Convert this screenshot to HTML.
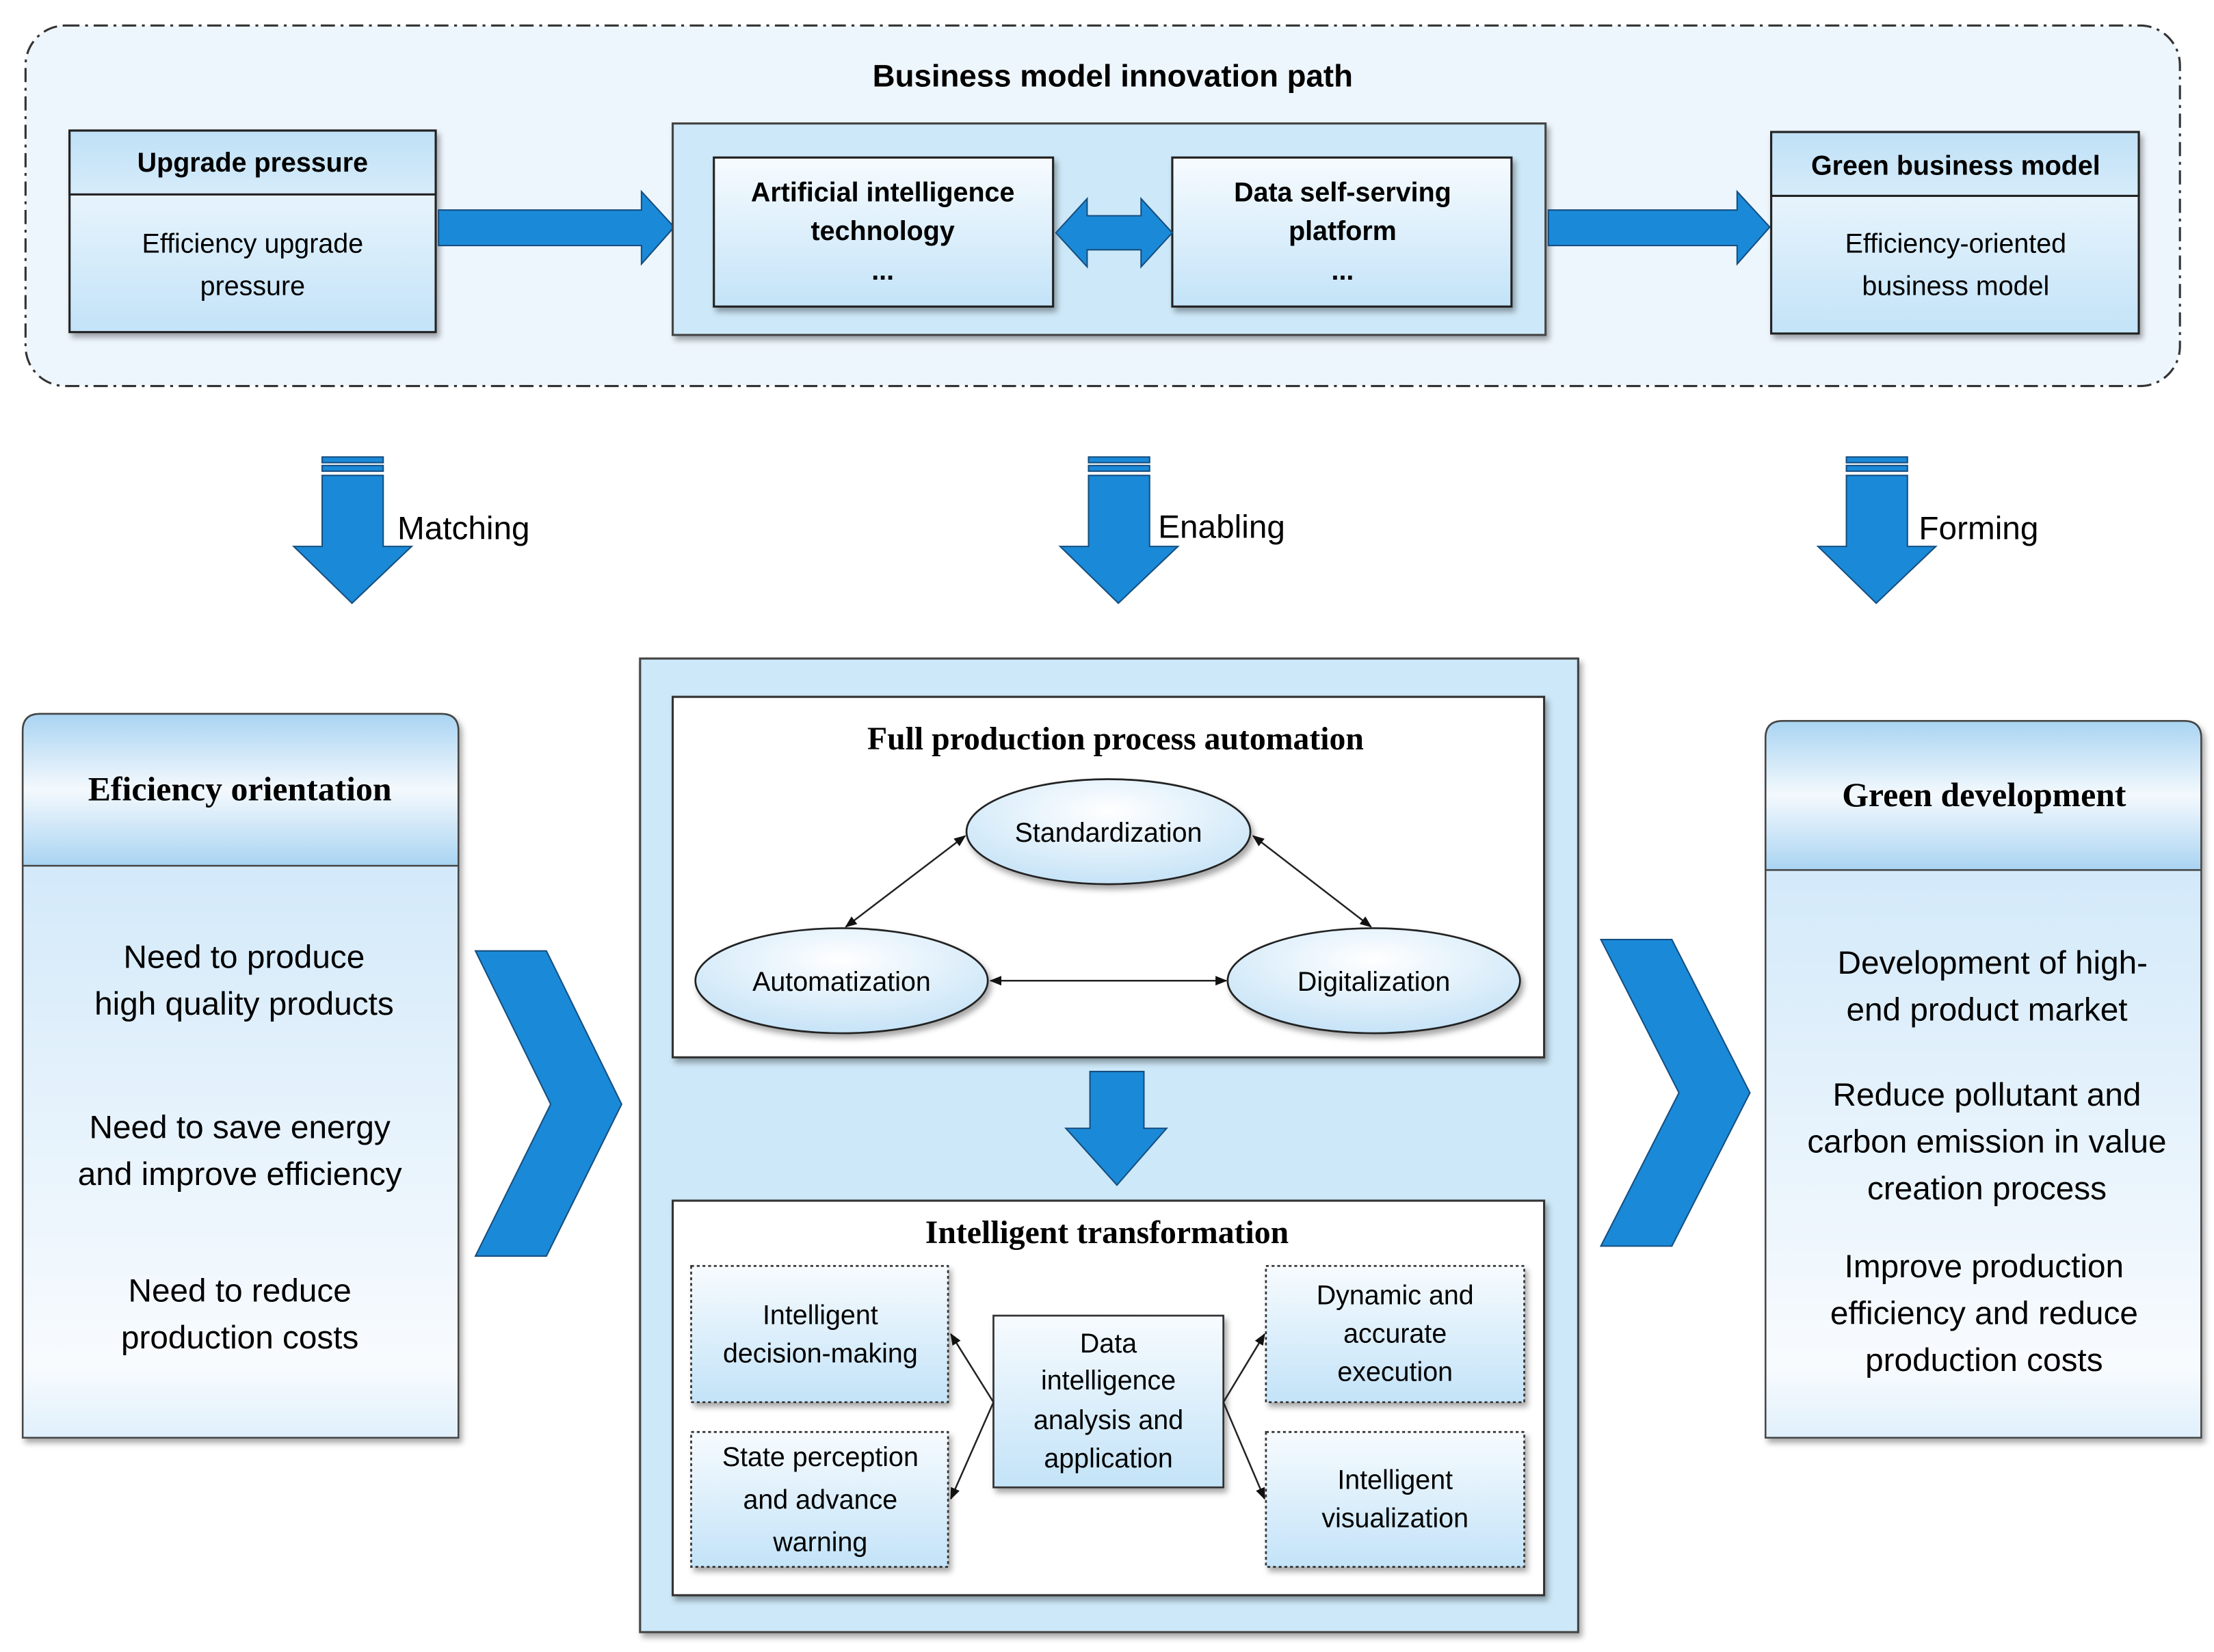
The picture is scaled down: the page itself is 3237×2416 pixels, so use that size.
<!DOCTYPE html>
<html><head><meta charset="utf-8"><style>
html,body{margin:0;padding:0;background:#fff;}
svg{display:block;}
.s{font-family:"Liberation Sans",sans-serif;}
.b{font-family:"Liberation Sans",sans-serif;font-weight:bold;}
.sf{font-family:"Liberation Serif",serif;font-weight:bold;}
</style></head><body>
<svg width="3237" height="2416" viewBox="0 0 1560 1164" preserveAspectRatio="none" xmlns="http://www.w3.org/2000/svg">
<defs>
<linearGradient id="g1" x1="0" y1="0" x2="0" y2="1"><stop offset="0" stop-color="#f7fbfe"/><stop offset="1" stop-color="#c3e3f8"/></linearGradient>
<linearGradient id="g2" x1="0" y1="0" x2="0" y2="1"><stop offset="0" stop-color="#a9d4f2"/><stop offset="0.5" stop-color="#f4f9fd"/><stop offset="1" stop-color="#a9d4f2"/></linearGradient>
<linearGradient id="gh" x1="0" y1="0" x2="0" y2="1"><stop offset="0" stop-color="#bfe0f6"/><stop offset="1" stop-color="#d6ecfa"/></linearGradient>
<linearGradient id="gp" x1="0" y1="0" x2="0" y2="1"><stop offset="0" stop-color="#c8e4f8"/><stop offset="0.9" stop-color="#f8fbfe"/><stop offset="1" stop-color="#e0f0fb"/></linearGradient>
<radialGradient id="ge" cx="0.5" cy="0.3" r="0.7"><stop offset="0" stop-color="#ffffff"/><stop offset="1" stop-color="#c6e3f7"/></radialGradient>
<marker id="ah" viewBox="0 0 10 10" refX="9" refY="5" markerWidth="7" markerHeight="7" orient="auto-start-reverse"><path d="M0,1 L10,5 L0,9 z" fill="#111"/></marker>
<filter id="sh" x="-5%" y="-5%" width="115%" height="120%"><feDropShadow dx="2" dy="3" stdDeviation="2" flood-color="#000" flood-opacity="0.35"/></filter>
</defs>
<!-- top region -->
<rect x="18" y="18" width="1518" height="254" rx="28" fill="#eef6fd" stroke="#333" stroke-width="1.5" stroke-dasharray="10,4,2,4"/>
<text x="784" y="61" class="b" font-size="22" text-anchor="middle">Business model innovation path</text>

<g filter="url(#sh)">
<rect x="49" y="92" width="258" height="142" fill="url(#g1)" stroke="#222" stroke-width="1.5"/>
<rect x="49" y="92" width="258" height="45" fill="url(#gh)" stroke="#222" stroke-width="1.5"/>
</g>
<text x="178" y="121" class="b" font-size="19" text-anchor="middle">Upgrade pressure</text>
<text x="178" y="178" class="s" font-size="19" text-anchor="middle">Efficiency upgrade</text>
<text x="178" y="208" class="s" font-size="19" text-anchor="middle">pressure</text>

<polygon points="309,148 452,148 452,135 475,160 452,186 452,173 309,173" fill="#1a8ad8" stroke="#164f80" stroke-width="1"/>

<rect x="474" y="87" width="615" height="149" fill="#cde8f8" stroke="#444" stroke-width="1.5" filter="url(#sh)"/>
<rect x="503" y="111" width="239" height="105" fill="url(#g1)" stroke="#222" stroke-width="1.5" filter="url(#sh)"/>
<text x="622" y="142" class="b" font-size="19" text-anchor="middle">Artificial intelligence</text>
<text x="622" y="169" class="b" font-size="19" text-anchor="middle">technology</text>
<text x="622" y="197" class="b" font-size="19" text-anchor="middle">...</text>
<rect x="826" y="111" width="239" height="105" fill="url(#g1)" stroke="#222" stroke-width="1.5" filter="url(#sh)"/>
<text x="946" y="142" class="b" font-size="19" text-anchor="middle">Data self-serving</text>
<text x="946" y="169" class="b" font-size="19" text-anchor="middle">platform</text>
<text x="946" y="197" class="b" font-size="19" text-anchor="middle">...</text>
<polygon points="744,164 766,140 766,152 804,152 804,140 826,164 804,188 804,176 766,176 766,188" fill="#1a8ad8" stroke="#164f80" stroke-width="1"/>

<polygon points="1091,148 1224,148 1224,135 1247,160 1224,186 1224,173 1091,173" fill="#1a8ad8" stroke="#164f80" stroke-width="1"/>

<g filter="url(#sh)">
<rect x="1248" y="93" width="259" height="142" fill="url(#g1)" stroke="#222" stroke-width="1.5"/>
<rect x="1248" y="93" width="259" height="45" fill="url(#gh)" stroke="#222" stroke-width="1.5"/>
</g>
<text x="1378" y="123" class="b" font-size="19" text-anchor="middle">Green business model</text>
<text x="1378" y="178" class="s" font-size="19" text-anchor="middle">Efficiency-oriented</text>
<text x="1378" y="208" class="s" font-size="19" text-anchor="middle">business model</text>

<!-- down arrows -->
<g fill="#1a8ad8" stroke="#164f80" stroke-width="1">
<rect x="227" y="322" width="43" height="4"/><rect x="227" y="328" width="43" height="4"/>
<polygon points="227,335 270,335 270,385 290,385 248,425 207,385 227,385"/>
<rect x="767" y="322" width="43" height="4"/><rect x="767" y="328" width="43" height="4"/>
<polygon points="767,335 810,335 810,385 830,385 788,425 747,385 767,385"/>
<rect x="1301" y="322" width="43" height="4"/><rect x="1301" y="328" width="43" height="4"/>
<polygon points="1301,335 1344,335 1344,385 1364,385 1322,425 1281,385 1301,385"/>
</g>
<text x="280" y="380" class="s" font-size="23">Matching</text>
<text x="816" y="379" class="s" font-size="23">Enabling</text>
<text x="1352" y="380" class="s" font-size="23">Forming</text>

<!-- left panel -->
<g filter="url(#sh)">
<path d="M16,1013 L16,515 Q16,503 28,503 L311,503 Q323,503 323,515 L323,1013 Z" fill="url(#gp)" stroke="#444" stroke-width="1.2"/>
<path d="M16,610 L16,515 Q16,503 28,503 L311,503 Q323,503 323,515 L323,610 Z" fill="url(#g2)" stroke="#444" stroke-width="1.2"/>
</g>
<text x="169" y="564" class="sf" font-size="24" text-anchor="middle">Eficiency orientation</text>
<g class="s" font-size="23" text-anchor="middle">
<text x="172" y="682">Need to produce</text>
<text x="172" y="715">high quality products</text>
<text x="169" y="802">Need to save energy</text>
<text x="169" y="835">and improve efficiency</text>
<text x="169" y="917">Need to reduce</text>
<text x="169" y="950">production costs</text>
</g>

<polygon points="335,670 385,670 438,778 385,885 335,885 388,778" fill="#1a8ad8" stroke="#164f80" stroke-width="1"/>
<polygon points="1128,662 1178,662 1233,770 1178,878 1128,878 1183,770" fill="#1a8ad8" stroke="#164f80" stroke-width="1"/>

<!-- center -->
<rect x="451" y="464" width="661" height="686" fill="#cde8f8" stroke="#444" stroke-width="1.5" filter="url(#sh)"/>
<rect x="474" y="491" width="614" height="254" fill="#fff" stroke="#333" stroke-width="1.5" filter="url(#sh)"/>
<text x="786" y="528" class="sf" font-size="23" text-anchor="middle">Full production process automation</text>
<g filter="url(#sh)" stroke="#222" stroke-width="1.3" fill="url(#ge)">
<ellipse cx="781" cy="586" rx="100" ry="37"/>
<ellipse cx="593" cy="691" rx="103" ry="37"/>
<ellipse cx="968" cy="691" rx="103" ry="37"/>
</g>
<g class="s" font-size="19" text-anchor="middle">
<text x="781" y="593">Standardization</text>
<text x="593" y="698">Automatization</text>
<text x="968" y="698">Digitalization</text>
</g>
<g stroke="#222" stroke-width="1.2" marker-start="url(#ah)" marker-end="url(#ah)">
<line x1="680" y1="589" x2="596" y2="653"/>
<line x1="883" y1="589" x2="966" y2="653"/>
<line x1="698" y1="691" x2="864" y2="691"/>
</g>
<polygon points="768,755 806,755 806,795 822,795 787,835 751,795 768,795" fill="#1a8ad8" stroke="#164f80" stroke-width="1"/>

<rect x="474" y="846" width="614" height="278" fill="#fff" stroke="#333" stroke-width="1.5" filter="url(#sh)"/>
<text x="780" y="876" class="sf" font-size="23" text-anchor="middle">Intelligent transformation</text>
<g fill="url(#g1)" stroke="#333" stroke-width="1.3" stroke-dasharray="2,2" filter="url(#sh)">
<rect x="487" y="892" width="181" height="96"/>
<rect x="487" y="1009" width="181" height="95"/>
<rect x="892" y="892" width="182" height="96"/>
<rect x="892" y="1009" width="182" height="95"/>
</g>
<rect x="700" y="927" width="162" height="121" fill="url(#g1)" stroke="#333" stroke-width="1.3" filter="url(#sh)"/>
<g stroke="#222" stroke-width="1.2" marker-end="url(#ah)">
<line x1="700" y1="988" x2="670" y2="940"/>
<line x1="700" y1="988" x2="670" y2="1056"/>
<line x1="862" y1="988" x2="891" y2="940"/>
<line x1="862" y1="988" x2="891" y2="1056"/>
</g>
<g class="s" font-size="19" text-anchor="middle">
<text x="578" y="933">Intelligent</text>
<text x="578" y="960">decision-making</text>
<text x="578" y="1033">State perception</text>
<text x="578" y="1063">and advance</text>
<text x="578" y="1093">warning</text>
<text x="781" y="953">Data</text>
<text x="781" y="979">intelligence</text>
<text x="781" y="1007">analysis and</text>
<text x="781" y="1034">application</text>
<text x="983" y="919">Dynamic and</text>
<text x="983" y="946">accurate</text>
<text x="983" y="973">execution</text>
<text x="983" y="1049">Intelligent</text>
<text x="983" y="1076">visualization</text>
</g>

<!-- right panel -->
<g filter="url(#sh)">
<path d="M1244,1013 L1244,520 Q1244,508 1256,508 L1539,508 Q1551,508 1551,520 L1551,1013 Z" fill="url(#gp)" stroke="#444" stroke-width="1.2"/>
<path d="M1244,613 L1244,520 Q1244,508 1256,508 L1539,508 Q1551,508 1551,520 L1551,613 Z" fill="url(#g2)" stroke="#444" stroke-width="1.2"/>
</g>
<text x="1398" y="568" class="sf" font-size="24" text-anchor="middle">Green development</text>
<g class="s" font-size="23" text-anchor="middle">
<text x="1404" y="686">Development of high-</text>
<text x="1400" y="719">end product market</text>
<text x="1400" y="779">Reduce pollutant  and</text>
<text x="1400" y="812">carbon emission in value</text>
<text x="1400" y="845">creation process</text>
<text x="1398" y="900">Improve production</text>
<text x="1398" y="933">efficiency and reduce</text>
<text x="1398" y="966">production costs</text>
</g>
</svg>
</body></html>
